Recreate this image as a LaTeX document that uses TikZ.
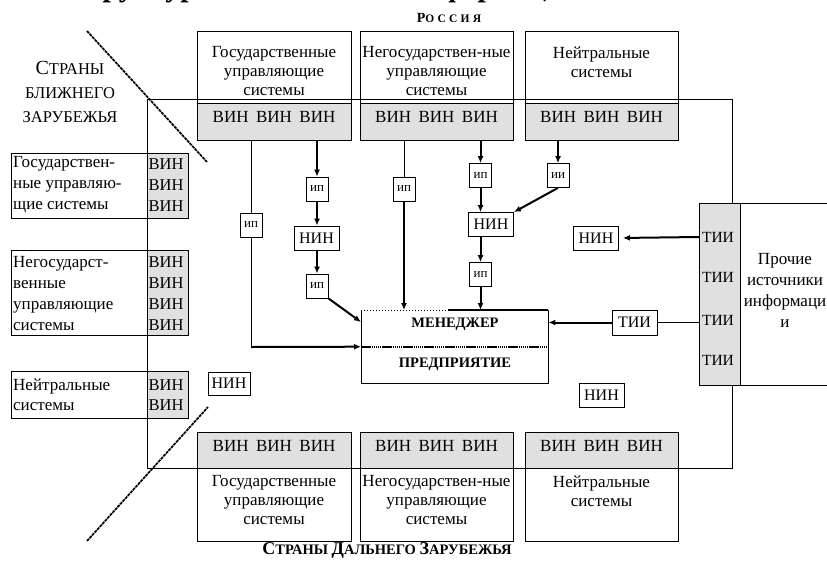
\documentclass[tikz,border=0pt]{standalone}
\usepackage{fontspec}
\setmainfont{Liberation Serif}
\usetikzlibrary{arrows.meta}
\newcommand\vinrow{ВИН\hspace{7.5pt}ВИН\hspace{7.5pt}ВИН}
\begin{document}
\begin{tikzpicture}[x=1pt,y=-1pt,
  box/.style={draw, line width=0.9pt},
  grayfill/.style={draw, line width=0.9pt, fill=black!12, inner sep=0, anchor=north west},
  tx/.style={font=\fontsize{17}{19}\selectfont, align=center, inner sep=0},
  ltx/.style={font=\fontsize{17}{21}\selectfont, align=left, inner sep=0, anchor=west},
  vtx/.style={font=\fontsize{16.5}{21}\selectfont, align=center, inner sep=0},
  sbox/.style={draw, line width=0.8pt, fill=white, inner sep=0, minimum width=22pt, minimum height=24pt, font=\fontsize{13}{14}\selectfont},
  nbox/.style={draw, line width=0.8pt, fill=white, inner sep=0, minimum width=45pt, minimum height=24pt, font=\fontsize{16}{17}\selectfont},
  tiitx/.style={inner sep=0, font=\fontsize{15.5}{16}\selectfont},
  thinl/.style={line width=0.8pt},
  arr/.style={line width=2pt, -{Latex[length=7pt,width=6pt]}},
  diag/.style={line width=1.7pt, dash pattern=on 3pt off 0.8pt},
]
\useasboundingbox (0,0) rectangle (827,565);
\fill[white] (0,0) rectangle (827,565);

% cut-off title
\node[anchor=base west, inner sep=0, font=\fontsize{30}{30}\selectfont\bfseries] (ttl1) at (66,-4) {Структура};
\node[anchor=base west, inner sep=0, font=\fontsize{30}{30}\selectfont\bfseries] (ttl2) at (407,-4) {информационного};

% Russia
\node[inner sep=0, font=\bfseries] (rus) at (449,18) {{\fontsize{14}{14}\selectfont Р}{\fontsize{11.5}{12}\selectfont\addfontfeature{LetterSpace=28}ОССИЯ}};

% main frame
\draw[box] (147,99) rectangle (732,468);

% diagonal dashed lines
\coordinate (da1) at (87,31); \coordinate (da2) at (207,162);
\coordinate (db1) at (87,541); \coordinate (db2) at (208,407);
\draw[diag] (da1) -- (da2);
\draw[diag] (db1) -- (db2);

% top boxes
\draw[box] (197,31) rectangle (351,140);
\draw[box] (360,31) rectangle (513,140);
\draw[box] (525,31) rectangle (678,140);
\node[grayfill, minimum width=154pt, minimum height=37pt] (g1) at (197,103) {};
\node[grayfill, minimum width=153pt, minimum height=37pt] (g2) at (360,103) {};
\node[grayfill, minimum width=153pt, minimum height=37pt] (g3) at (525,103) {};
\node[tx] (tt1) at (274,71) {Государственные\\управляющие\\системы};
\node[tx] (tt2) at (436.5,71) {Негосударствен-ные\\управляющие\\системы};
\node[tx] (tt3) at (601.5,62) {Нейтральные\\системы};
\node[tx] (tv1) at (274,117) {\vinrow};
\node[tx] (tv2) at (436.5,117) {\vinrow};
\node[tx] (tv3) at (601.5,117) {\vinrow};

% bottom boxes
\draw[box] (197,432) rectangle (351,541);
\draw[box] (360,432) rectangle (513,541);
\draw[box] (525,432) rectangle (678,541);
\node[grayfill, minimum width=154pt, minimum height=36pt] (b1) at (197,432) {};
\node[grayfill, minimum width=153pt, minimum height=36pt] (b2) at (360,432) {};
\node[grayfill, minimum width=153pt, minimum height=36pt] (b3) at (525,432) {};
\node[tx] (bv1) at (274,446) {\vinrow};
\node[tx] (bv2) at (436.5,446) {\vinrow};
\node[tx] (bv3) at (601.5,446) {\vinrow};
\node[tx] (bt1) at (274,500) {Государственные\\управляющие\\системы};
\node[tx] (bt2) at (436.5,500) {Негосударствен-ные\\управляющие\\системы};
\node[tx] (bt3) at (601.5,491) {Нейтральные\\системы};

% left title
\node[align=center, inner sep=0, font=\fontsize{16.5}{24}\selectfont] (blz) at (70,92) {{\fontsize{20}{20}\selectfont С}ТРАНЫ\\БЛИЖНЕГО\\ЗАРУБЕЖЬЯ};

% bottom title
\node[inner sep=0, font=\bfseries\fontsize{14.5}{15}\selectfont] (dlz) at (387,550) {{\fontsize{18}{18}\selectfont С}ТРАНЫ {\fontsize{18}{18}\selectfont Д}АЛЬНЕГО {\fontsize{18}{18}\selectfont З}АРУБЕЖЬЯ};

% left boxes
\draw[box] (11,153) rectangle (188,218);
\node[grayfill, minimum width=41pt, minimum height=65pt] (l1) at (147,153) {};
\draw[box] (11,250) rectangle (188,335);
\node[grayfill, minimum width=41pt, minimum height=85pt] (l2) at (147,250) {};
\draw[box] (11,371) rectangle (188,418);
\node[grayfill, minimum width=41pt, minimum height=47pt] (l3) at (147,371) {};
\node[ltx] (lt1) at (13,185) {Государствен-\\ные управляю-\\щие системы};
\node[vtx] (lv1) at (166,185) {ВИН\\ВИН\\ВИН};
\node[ltx] (lt2) at (13,293.5) {Негосударст-\\венные\\управляющие\\системы};
\node[vtx] (lv2) at (166,293.5) {ВИН\\ВИН\\ВИН\\ВИН};
\node[ltx, font=\fontsize{17}{20}\selectfont] (lt3) at (13,395) {Нейтральные\\системы};
\node[vtx, font=\fontsize{16.5}{20}\selectfont] (lv3) at (166,395) {ВИН\\ВИН};

% right source box
\node[grayfill, minimum width=41pt, minimum height=182pt] (rg) at (699,203) {};
\draw[box] (850,203) -- (740,203) -- (740,385) -- (850,385);
\node[tiitx] (ti1) at (718,237) {ТИИ};
\node[tiitx] (ti2) at (718,277) {ТИИ};
\node[tiitx] (ti3) at (718,320) {ТИИ};
\node[tiitx] (ti4) at (718,360) {ТИИ};
\node[align=center, inner sep=0, font=\fontsize{17}{21}\selectfont] (proch) at (785,290) {Прочие\\источники\\информаци\\и};

% manager / enterprise
\node[minimum width=187pt, minimum height=73pt, anchor=north west, inner sep=0] (man) at (361,310) {};
\draw[box] (man.north east) -- (man.south east) -- (man.south west) -- (man.north west);
\coordinate (mtop) at (448,310);
\draw[line width=1pt, dotted] (man.north west) -- (mtop);
\draw[line width=1.8pt] (mtop) -- (man.north east);
\draw[line width=1.6pt, dash pattern=on 1.5pt off 0.6pt] (man.west) -- (man.east);
\node[inner sep=0, font=\bfseries\fontsize{14.5}{15}\selectfont] (mgr) at (455,324) {МЕНЕДЖЕР};
\node[inner sep=0, font=\bfseries\fontsize{14.5}{15}\selectfont] (ent) at (455,364) {ПРЕДПРИЯТИЕ};

% small boxes
\node[sbox] (ipA) at (251,225) {ип};
\node[sbox] (ipB) at (317,189) {ип};
\node[nbox] (ninB) at (316.5,238) {НИН};
\node[sbox] (ipC) at (317,286) {ип};
\node[sbox] (ipD) at (404,189) {ип};
\node[sbox] (ipE) at (480.5,175.5) {ип};
\node[nbox] (ninE) at (491,224.5) {НИН};
\node[sbox] (ipF) at (480.5,274.5) {ип};
\node[sbox] (iiG) at (558,175.5) {ии};
\node[nbox] (ninH) at (596,238) {НИН};
\node[nbox, minimum height=25pt] (tiiI) at (634.5,322.5) {ТИИ};
\node[nbox] (ninJ) at (601.5,395.5) {НИН};
\node[nbox, minimum width=42pt, minimum height=23pt] (ninK) at (229,383.5) {НИН};

% connectors
\coordinate (cA) at (251,347);
\draw[thinl] (g1.south -| ipA) -- (ipA.north);
\draw[thinl] (ipA.south) -- (cA);
\draw[arr] (cA) -- (man.west);

\draw[arr] (g1.south -| ipB) -- (ipB.north);
\draw[arr] (ipB.south) -- (ipB.south |- ninB.north);
\draw[arr] (ipC.north |- ninB.south) -- (ipC.north);
\coordinate (mL) at (361,322);
\draw[arr] (ipC.south east) -- (mL);

\draw[thinl] (g2.south -| ipD) -- (ipD.north);
\draw[arr] (ipD.south) -- (ipD.south |- man.north);

\draw[arr] (g2.south -| ipE) -- (ipE.north);
\draw[arr] (ipE.south) -- (ipE.south |- ninE.north);
\draw[arr] (ipF.north |- ninE.south) -- (ipF.north);
\draw[arr] (ipF.south) -- (ipF.south |- man.north);

\draw[arr] (g3.south -| iiG) -- (iiG.north);
\draw[arr] (iiG.south) -- (ninE.north east);

\draw[arr, shorten >=4pt] (ti1.west -| rg.west) -- (ninH.east);
\draw[thinl] (tiiI.east) -- (tiiI.east -| rg.west);
\draw[arr] (tiiI.west) -- (tiiI.west -| man.east);
\end{tikzpicture}
\end{document}
